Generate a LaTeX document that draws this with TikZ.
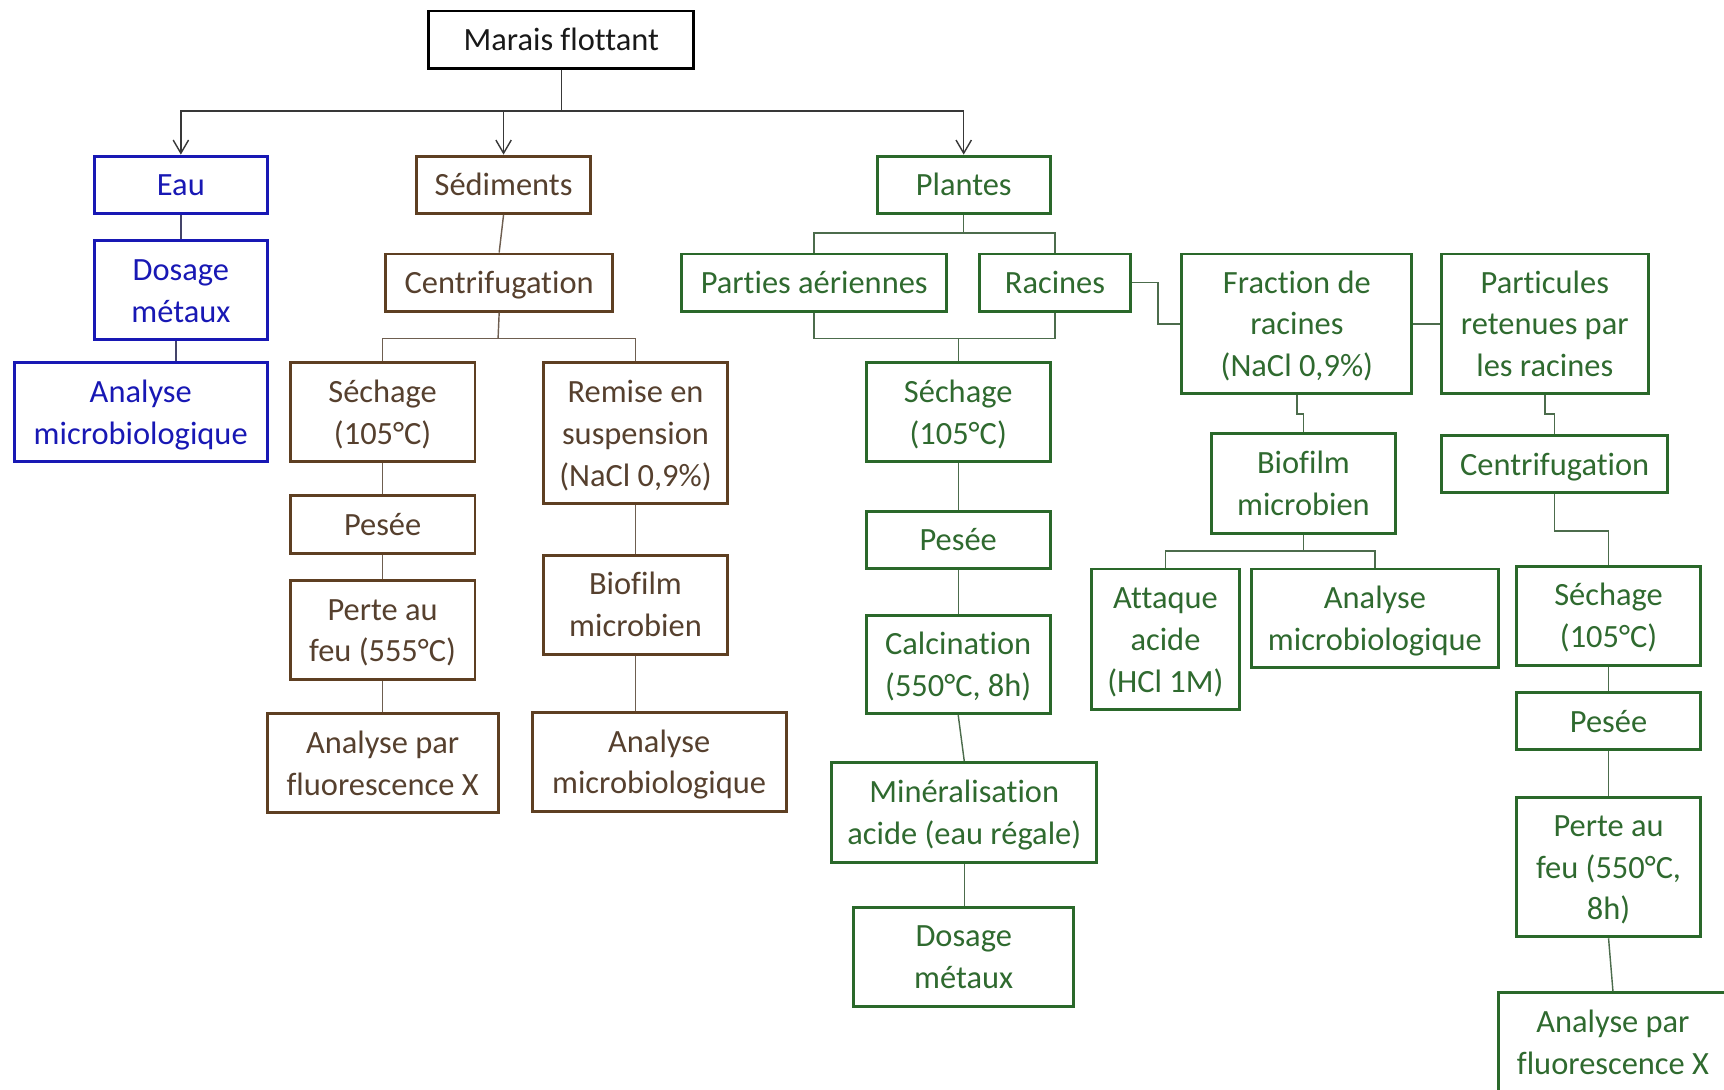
\documentclass[tikz,border=0pt]{standalone}
\usepackage{fontspec}
\setmainfont{Carlito}[Ligatures=NoCommon]
\usetikzlibrary{arrows.meta}
\definecolor{cblue}{HTML}{1818B4}
\definecolor{cbrown}{HTML}{5E3F22}
\definecolor{cbrownt}{HTML}{56402E}
\definecolor{cgreen}{HTML}{2A682A}
\definecolor{cgreent}{HTML}{2F6A2F}
\definecolor{lblack}{HTML}{383838}
\definecolor{lblue}{HTML}{44446A}
\definecolor{lbrown}{HTML}{6E5E50}
\definecolor{lgreen}{HTML}{4C6C4C}
\newcommand\ws{\rule[-0.269em]{0pt}{1.221em}}
\tikzset{
  bx/.style={draw, line width=2.7pt, inner sep=0pt, align=center,
    font=\fontsize{29.5}{38}\selectfont},
  bblack/.style={bx, draw=black, text=black!90},
  bblue/.style={bx, draw=cblue, text=cblue},
  bbrown/.style={bx, draw=cbrown, text=cbrownt},
  bgreen/.style={bx, draw=cgreen, text=cgreent},
  ln/.style={line width=1.3pt},
  lnk/.style={ln, draw=lblack},
  lnb/.style={ln, draw=lblue},
  lnr/.style={ln, draw=lbrown},
  lng/.style={ln, draw=lgreen},
  arr/.style={lnk, -{Straight Barb[length=12pt,width=14pt,line width=1.3pt]}}
}
\begin{document}
\begin{tikzpicture}[x=1pt,y=-1pt]
\useasboundingbox (0,0) rectangle (1568,991);
\clip (0,0) rectangle (1568,991);
% root
\node[bblack, minimum width=241, minimum height=52] (marais) at (510.5,36) {\ws Marais flottant\ws};
% water
\node[bblue, minimum width=157, minimum height=52] (eau) at (164.5,168) {\ws Eau\ws};
\node[bblue, minimum width=157, minimum height=90] (dosE) at (164.5,264) {\ws Dosage\\métaux\ws};
\node[bblue, minimum width=230, minimum height=90] (anaE) at (128,375) {\ws Analyse\\microbiologique\ws};
% sediments
\node[bbrown, minimum width=158, minimum height=52] (sed) at (458,168) {\ws Sédiments\ws};
\node[bbrown, minimum width=206, minimum height=52] (cenS) at (454,257) {\ws Centrifugation\ws};
\node[bbrown, minimum width=168, minimum height=90] (sechS) at (348,375) {\ws Séchage\\(105°C)\ws};
\node[bbrown, minimum width=168, minimum height=128] (remS) at (578,394) {\ws Remise en\\suspension\\(NaCl 0,9\%)\ws};
\node[bbrown, minimum width=168, minimum height=52] (pesS) at (348,477) {\ws Pesée\ws};
\node[bbrown, minimum width=168, minimum height=90] (perS) at (348,573) {\ws Perte au\\feu (555°C)\ws};
\node[bbrown, minimum width=210, minimum height=90] (fluS) at (348,694) {\ws Analyse par\\fluorescence X\ws};
\node[bbrown, minimum width=168, minimum height=90] (bioS) at (578,550) {\ws Biofilm\\microbien\ws};
\node[bbrown, minimum width=231, minimum height=90] (anaS) at (599.5,693) {\ws Analyse\\microbiologique\ws};
% plants
\node[bgreen, minimum width=157, minimum height=52] (pla) at (876.5,168) {\ws Plantes\ws};
\node[bgreen, minimum width=241, minimum height=52] (par) at (740.5,257) {\ws Parties aériennes\ws};
\node[bgreen, minimum width=137, minimum height=52] (rac) at (959.5,257) {\ws Racines\ws};
\node[bgreen, minimum width=167, minimum height=90] (sechP) at (871.5,375) {\ws Séchage\\(105°C)\ws};
\node[bgreen, minimum width=167, minimum height=52] (pesP) at (871.5,491) {\ws Pesée\ws};
\node[bgreen, minimum width=167, minimum height=89] (calP) at (871.5,604.5) {\ws Calcination\\(550°C, 8h)\ws};
\node[bgreen, minimum width=241, minimum height=91] (minP) at (877,739) {\ws Minéralisation\\acide (eau régale)\ws};
\node[bgreen, minimum width=200, minimum height=90] (dosP) at (876.5,870) {\ws Dosage\\métaux\ws};
\node[bgreen, minimum width=209, minimum height=127] (fra) at (1179.5,294.5) {\ws Fraction de\\racines\\(NaCl 0,9\%)\ws};
\node[bgreen, minimum width=188, minimum height=127] (ptc) at (1405,294.5) {\ws Particules\\retenues par\\les racines\ws};
\node[bgreen, minimum width=167, minimum height=91] (bioP) at (1185.5,439.5) {\ws Biofilm\\microbien\ws};
\node[bgreen, minimum width=135, minimum height=128] (att) at (1060,581.5) {\ws Attaque\\acide\\(HCl 1M)\ws};
\node[bgreen, minimum width=225, minimum height=90] (anaP) at (1250.5,562.5) {\ws Analyse\\microbiologique\ws};
\node[bgreen, minimum width=206, minimum height=52] (cenP) at (1414,422) {\ws Centrifugation\ws};
\node[bgreen, minimum width=168, minimum height=90] (sechR) at (1463,560) {\ws Séchage\\(105°C)\ws};
\node[bgreen, minimum width=168, minimum height=52] (pesR) at (1463,656) {\ws Pesée\ws};
\node[bgreen, minimum width=168, minimum height=127] (perR) at (1463,788.5) {\ws Perte au\\feu (550°C,\\8h)\ws};
\node[bgreen, minimum width=208, minimum height=90] (fluR) at (1467,948) {\ws Analyse par\\fluorescence X\ws};
% top connectors
\coordinate (busA) at (510.5,101);
\draw[lnk] (marais.south) -- (busA);
\draw[arr] (busA) -| (eau.north);
\draw[arr] (busA) -| (sed.north);
\draw[arr] (busA) -| (pla.north);
% water connectors
\draw[lnb] (eau.south) -- (dosE.north);
\draw[lnb] (dosE.south -| 160,0) -- (anaE.north -| 160,0);
% sediment connectors
\coordinate (bS) at (453,308);
\draw[lnr] (sed.south) -- (cenS.north);
\draw[lnr] (cenS.south) -- (bS);
\draw[lnr] (sechS.north) |- (bS) -| (remS.north);
\draw[lnr] (sechS.south) -- (pesS.north);
\draw[lnr] (pesS.south) -- (perS.north);
\draw[lnr] (perS.south) -- (fluS.north);
\draw[lnr] (remS.south) -- (bioS.north);
\draw[lnr] (bioS.south) -- (bioS.south |- anaS.north);
% plant connectors
\coordinate (bP) at (876.5,212);
\draw[lng] (pla.south) -- (bP);
\draw[lng] (par.north) |- (bP) -| (rac.north);
\coordinate (bQ) at (871.5,307.7);
\draw[lng] (par.south) |- (bQ) -| (rac.south);
\draw[lng] (bQ) -- (sechP.north);
\draw[lng] (sechP.south) -- (pesP.north);
\draw[lng] (pesP.south) -- (calP.north);
\draw[lng] (calP.south) -- (minP.north);
\draw[lng] (minP.south) -- (minP.south |- dosP.north);
\draw[lng] (rac.east) -- ++(24,0) |- (fra.west);
\draw[lng] (fra.east) -- (ptc.west);
\draw[lng] (fra.south) -- ++(0,17) -| (bioP.north);
\coordinate (bR) at (1185.5,501);
\draw[lng] (bioP.south) -- (bR);
\draw[lng] (att.north) |- (bR) -| (anaP.north);
\draw[lng] (ptc.south) -- ++(0,17) -| (cenP.north);
\draw[lng] (cenP.south) -- ++(0,33.4) -| (sechR.north);
\draw[lng] (sechR.south) -- (pesR.north);
\draw[lng] (pesR.south) -- (perR.north);
\draw[lng] (perR.south) -- (fluR.north);
\end{tikzpicture}
\end{document}
